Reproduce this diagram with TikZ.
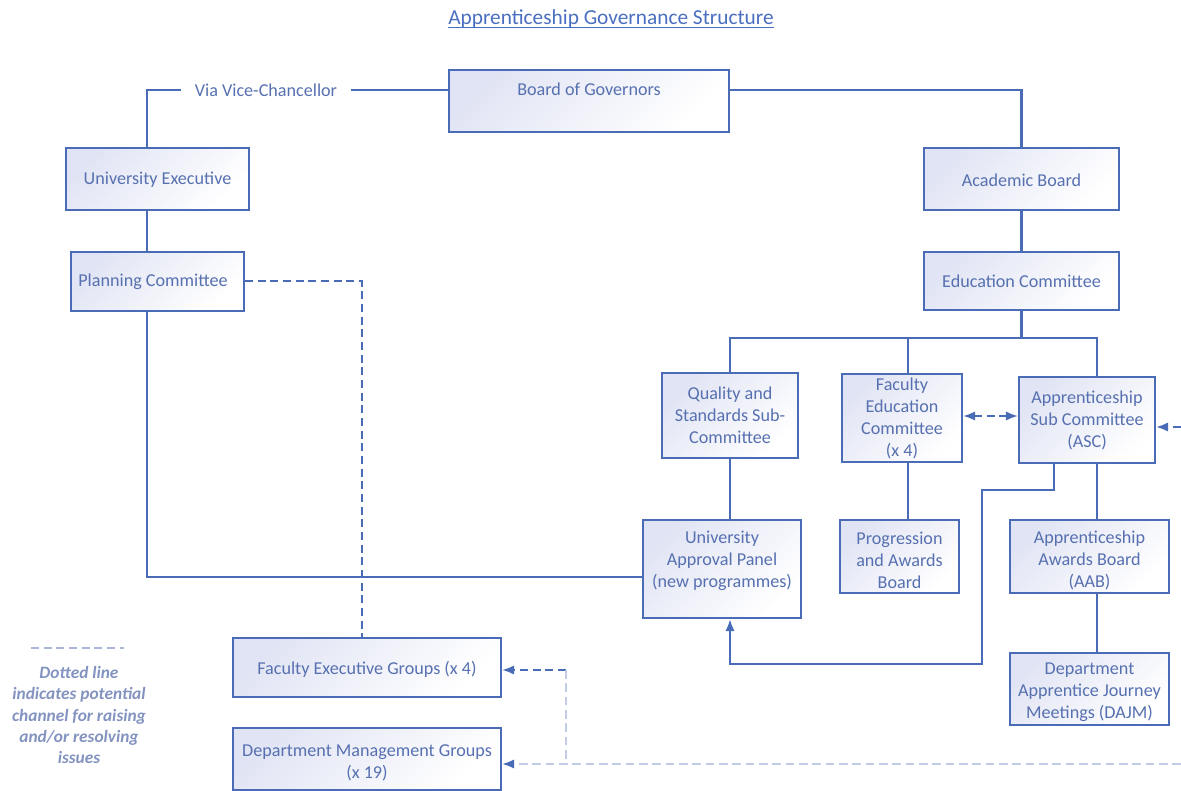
\documentclass[tikz,border=0pt]{standalone}
\usepackage{fontspec}
\setmainfont{Carlito}
\usetikzlibrary{fit,arrows.meta,calc}
\definecolor{bcol}{HTML}{4A6BB5}
\definecolor{tcol}{HTML}{5670B0}
\definecolor{fillc}{HTML}{E1E4F4}
\definecolor{lcol}{HTML}{C3CCE6}
\definecolor{legc}{HTML}{8393BF}
\definecolor{legl}{HTML}{A9B5DA}
\definecolor{ttl}{HTML}{4A6FC0}
\tikzset{
  box/.style={draw=bcol, line width=1.6pt, top color=fillc, bottom color=white, shading angle=45, inner sep=0pt},
  txt/.style={text=tcol, align=center, font=\fontsize{13.6}{16.5}\selectfont, inner sep=0pt},
  conn/.style={draw=bcol, line width=1.6pt},
  arr/.style={-{Latex[length=9pt,width=7pt]}},
  arrboth/.style={{Latex[length=9pt,width=7pt]}-{Latex[length=9pt,width=7pt]}},
  dsh/.style={draw=bcol, line width=1.5pt, dash pattern=on 6pt off 3.5pt},
  ldsh/.style={draw=lcol, line width=1.6pt, dash pattern=on 6.5pt off 3.5pt}
}
\begin{document}
\begin{tikzpicture}[x=0.75pt,y=-0.75pt]
\useasboundingbox (0,0) rectangle (1181,791);
% title
\node[font=\fontsize{16}{19}\selectfont, text=ttl, inner sep=0pt] (title) at (611,18.5) {Apprenticeship Governance Structure};
\draw[ttl, line width=0.9pt] ([yshift=-2.6pt]title.base west) -- ([yshift=-2.6pt]title.base east);
% boxes
\node[box, fit={(449,70) (729,132)}] (bog) {};
\node[txt] (tbog) at (589,89.5) {Board of Governors};
\node[box, fit={(66,148) (249,210)}] (ue) {};
\node[txt] (tue) at (157.5,180) {University Executive};
\node[box, fit={(71,252) (244,311)}] (pc) {};
\node[txt] (tpc) at (153,282) {Planning Committee};
\node[box, fit={(924,148) (1119,210)}] (ab) {};
\node[txt] (tab) at (1021.5,180) {Academic Board};
\node[box, fit={(924,252) (1119,310)}] (ec) {};
\node[txt] (tec) at (1021.5,281.5) {Education Committee};
\node[box, fit={(662,373) (798,458)}] (qs) {};
\node[txt] (tqs) at (730,415.5) {Quality and\\Standards Sub-\\Committee};
\node[box, fit={(842,374) (962,462)}] (fec) {};
\node[txt] (tfec) at (902,418.5) {Faculty\\Education\\Committee\\(x 4)};
\node[box, fit={(1019,377) (1155,463)}] (asc) {};
\node[txt] (tasc) at (1087,420.5) {Apprenticeship\\Sub Committee\\(ASC)};
\node[box, fit={(643,520) (801,618)}] (uap) {};
\node[txt] (tuap) at (722,560.5) {University\\Approval Panel\\(new programmes)};
\node[box, fit={(840,520) (959,593)}] (pab) {};
\node[txt] (tpab) at (899.5,560.5) {Progression\\and Awards\\Board};
\node[box, fit={(1010,520) (1169,593)}] (aab) {};
\node[txt] (taab) at (1089.5,560.5) {Apprenticeship\\Awards Board\\(AAB)};
\node[box, fit={(1010,653) (1169,725)}] (dajm) {};
\node[txt] (tdajm) at (1089.5,692.5) {Department\\Apprentice Journey\\Meetings (DAJM)};
\node[box, fit={(233,638) (501,697)}] (feg) {};
\node[txt] (tfeg) at (367,669.5) {Faculty Executive Groups (x 4)};
\node[box, fit={(233,728) (501,790)}] (dmg) {};
\node[txt] (tdmg) at (367,762.5) {Department Management Groups\\(x 19)};
% via label
\node[txt, inner xsep=10pt] (via) at (266,90) {Via Vice-Chancellor};
% coordinates
\coordinate (lx) at (147,0);
\coordinate (gy) at (0,90);
\coordinate (bus) at (0,338);
\coordinate (fx) at (908,0);
\coordinate (rx) at (1097,0);
\coordinate (ax) at (1054,0);
\coordinate (k1) at (982,490);
\coordinate (k2) at (982,664);
\coordinate (uy) at (0,577);
\coordinate (dx) at (362,0);
\coordinate (dy) at (0,416);
\coordinate (re1) at (1181,427);
\coordinate (j) at (566,670);
\coordinate (re2) at (1181,764);
% solid connectors
\draw[conn] (ue.north -| lx) |- (via.west);
\draw[conn] (via.east) -- (bog.west |- via.east);
\draw[conn] (bog.east |- gy) -| (ab.north);
\draw[conn] (ue.south -| lx) -- (pc.north -| lx);
\draw[conn] (pc.south -| lx) |- (uap.west |- uy);
\draw[conn] (ab.south) -- (ec.north);
\draw[conn] (ec.south) -- (ec.south |- bus);
\draw[conn] (qs.north) |- (rx |- bus) -- (rx |- asc.north);
\draw[conn] (fx |- bus) -- (fx |- fec.north);
\draw[conn] (qs.south) -- (qs.south |- uap.north);
\draw[conn] (fx |- fec.south) -- (fx |- pab.north);
\draw[conn] (rx |- asc.south) -- (rx |- aab.north);
\draw[conn] (rx |- aab.south) -- (rx |- dajm.north);
\draw[conn,arr] (ax |- asc.south) |- (k1) -- (k2) -| (qs.south |- uap.south);
% dashed connectors
\draw[dsh,arrboth] (fec.east |- dy) -- (asc.west |- dy);
\draw[dsh] (pc.east) -| (dx |- feg.north);
\draw[dsh,arr] (j) -- (feg.east |- j);
\draw[ldsh] (j) -- (j |- re2);
\draw[ldsh,-{Latex[length=9pt,width=7pt,color=bcol]}] (re2) -- (dmg.east |- re2);
\draw[dsh,arr] (re1) -- (asc.east |- re1);
% legend
\draw[legl, line width=1.3pt, dash pattern=on 6pt off 3.5pt] (31,648) -- (124,648);
\node[text=legc, align=center, font=\fontsize{13}{16}\selectfont\itshape\bfseries, inner sep=0pt] (legend) at (79,715) {Dotted line\\indicates potential\\channel for raising\\and/or resolving\\issues};
\end{tikzpicture}
\end{document}
